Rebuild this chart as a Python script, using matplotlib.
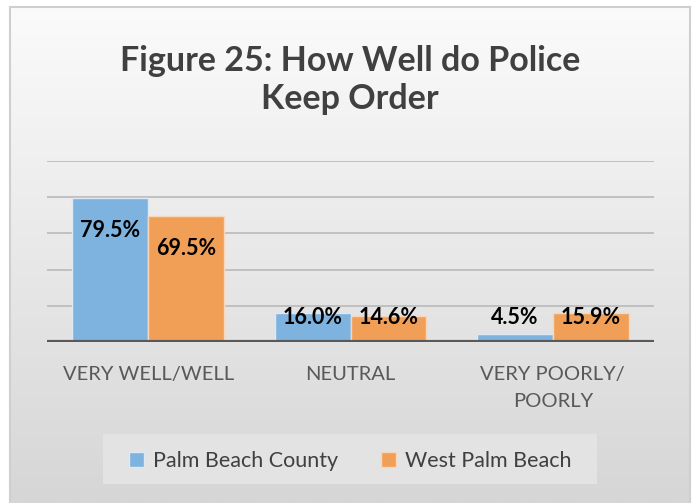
import matplotlib.pyplot as plt
import numpy as np
from matplotlib.patches import Rectangle, Patch

categories = ["VERY WELL/WELL", "NEUTRAL", "VERY POORLY/\nPOORLY"]
series_names = ["Palm Beach County", "West Palm Beach"]
palm_beach_county = [79.5, 16.0, 4.5]
west_palm_beach = [69.5, 14.6, 15.9]
title = "Figure 25: How Well do Police\nKeep Order"

blue = "#7eb3df"
orange = "#f19e56"
font = "Lato"

fig = plt.figure(figsize=(6.95, 5.03), dpi=100)

# background gradient inside the chart frame
bg = fig.add_axes([10 / 695, 0, 680 / 695, 496 / 503], zorder=-10)
grad = np.linspace(0, 1, 256).reshape(-1, 1)
bg.imshow(grad, aspect="auto", cmap=plt.matplotlib.colors.LinearSegmentedColormap.from_list(
    "g", ["#fbfbfb", "#d6d6d6"]), extent=[0, 1, 0, 1], origin="upper")
bg.set_xlim(0, 1)
bg.set_ylim(0, 1)
for s in bg.spines.values():
    s.set_color("#cfcfcf")
    s.set_linewidth(1.5)
bg.spines["bottom"].set_visible(False)
bg.set_xticks([])
bg.set_yticks([])

ax = fig.add_axes([47 / 695, 161 / 503, 607 / 695, 181 / 503])
ax.set_facecolor("none")
x = np.arange(len(categories))
w = 0.375
ax.bar(x - w / 2, palm_beach_county, w, color=blue, edgecolor="#dce9f5", linewidth=1, zorder=3)
ax.bar(x + w / 2, west_palm_beach, w, color=orange, edgecolor="#f7d7bb", linewidth=1, zorder=3)

ax.set_xlim(-0.5, len(categories) - 0.5)
ax.set_ylim(0, 100)
ax.set_yticks(np.arange(0, 101, 20))
ax.yaxis.grid(True, color="#bdbdbd", linewidth=1.3)
ax.set_axisbelow(True)
ax.tick_params(left=False, bottom=False, labelleft=False, labelbottom=False)
for s in ax.spines.values():
    s.set_visible(False)
ax.axhline(0, color="#595959", linewidth=3, zorder=4)

for xs, vals in [(x - w / 2, palm_beach_county), (x + w / 2, west_palm_beach)]:
    for xi, v in zip(xs, vals):
        ax.text(xi, max(v - 17.7, 13.5), f"{v:.1f}%", ha="center", va="center",
                fontsize=15.5, fontweight="bold", color="black", family=font, zorder=5)

for xi, c in zip(x, categories):
    ax.text(xi, -13.5, c, ha="center", va="top", fontsize=14.5, color="#595959",
            family=font, linespacing=1.7, clip_on=False)

fig.text(0.504, 0.841, title, ha="center", va="center", fontsize=24.5, fontweight="bold",
         color="#404040", family=font, linespacing=1.25)

# legend box
fig.patches.append(Rectangle((103 / 695, 19 / 503), 494 / 695, 50 / 503,
                             transform=fig.transFigure, facecolor="#e3e3e3",
                             edgecolor="none", zorder=-5))
handles = [Patch(facecolor=blue, edgecolor="#dce9f5"), Patch(facecolor=orange, edgecolor="#f7d7bb")]
fig.legend(handles, series_names, loc="center", bbox_to_anchor=(0.504, 0.083), ncol=2,
           frameon=False, prop={"family": font, "size": 15.5}, labelcolor="#404040",
           handlelength=0.7, handleheight=0.7, handletextpad=0.4, columnspacing=2.0)

fig.savefig("out.png", dpi=100, facecolor="white")
